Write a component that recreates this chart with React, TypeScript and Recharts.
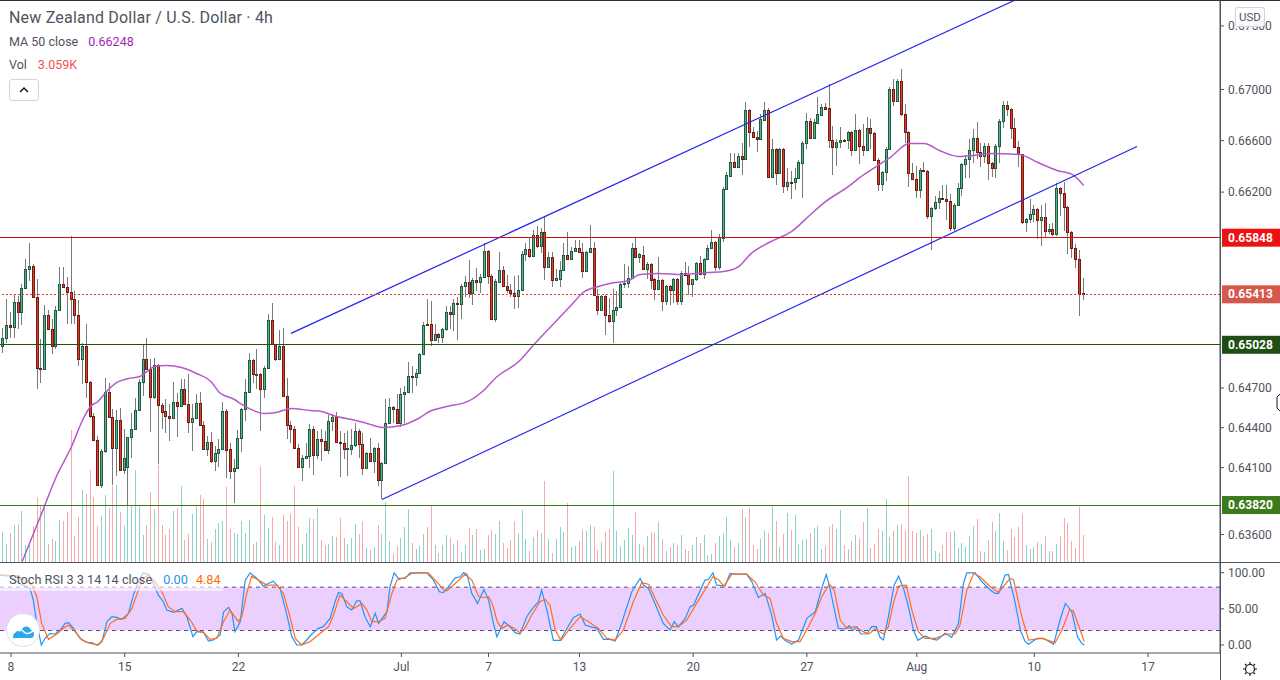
import React from "react";
import { ComposedChart, Bar, Line, XAxis, YAxis, ReferenceLine, ReferenceArea } from "recharts";

// OHLC in units of 0.00001 USD, one entry per 4h candle
const opens = [
65018,65079,65180,65162,65357,65278,65458,65607,65632,65392,
64854,64844,65257,65150,65018,65293,65494,65471,65433,65380,
65257,64918,65021,64748,64491,64310,63967,64222,64673,64484,
64247,64461,64082,64102,64328,64390,64534,64743,64918,64847,
64632,64872,64574,64524,64491,64473,64597,64564,64695,64582,
64443,64473,64590,64423,64240,64295,64150,64212,64240,64529,
64237,64075,64097,64323,64542,64670,64915,64806,64809,64690,
64852,65219,65031,64923,65021,64643,64423,64393,64250,64105,
64172,64190,64388,64195,64318,64300,64232,64453,64478,64295,
64288,64242,64242,64273,64378,64278,64100,64212,64150,64250,
64007,64137,64438,64560,64544,64438,64657,64673,64794,64786,
64816,64961,65188,65186,65064,65109,65087,65150,65280,65262,
65349,65339,65476,65510,65423,65525,65505,65548,65747,65556,
65224,65510,65601,65479,65448,65423,65403,65448,65724,65762,
65706,65870,65786,65890,65624,65701,65525,65533,65601,65716,
65686,65747,65770,65739,65594,65739,65770,65403,65295,65403,
65257,65211,65295,65318,65492,65502,65540,65765,65698,65716,
65606,65649,65527,65450,65519,65360,65478,65445,65534,65360,
65573,65560,65491,65527,65657,65568,65685,65772,65811,65621,
65847,66224,66324,66430,66394,66477,66456,66843,66671,66632,
66609,66760,66843,66316,66536,66347,66536,66247,66280,66278,
66308,66427,66582,66757,66619,66739,66801,66859,66851,66606,
66549,66588,66606,66603,66669,66526,66684,66556,66526,66700,
66661,66453,66262,66355,66536,67005,66909,67068,66810,66669,
66350,66303,66218,66373,66366,66014,66076,66122,66156,66148,
66133,65922,66099,66231,66418,66456,66526,66622,66513,66479,
66560,66428,66386,66558,66753,66880,66849,66695,66551,66495,
65968,65991,66030,66071,65983,66009,65899,65917,65876,66233,
66195,66087,65891,65770,65685,65420];
const highs = [
65153,65375,65280,65412,65400,65494,65681,65809,65642,65533,
65069,65329,65290,65227,65323,65619,65619,65545,65860,65436,
65369,65044,65183,64753,64509,64338,64237,64779,64736,64539,
64532,64547,64393,64333,64514,64627,64766,65036,65077,64918,
64930,64884,64590,64620,64577,64748,64665,64766,64766,64804,
64577,64653,64670,64451,64338,64370,64262,64313,64595,64539,
64287,64162,64380,64549,64766,64963,64923,64993,64814,64867,
65260,65344,65036,65137,65153,64779,64449,64413,64275,64197,
64282,64431,64413,64375,64388,64375,64494,64501,64519,64375,
64363,64375,64388,64438,64388,64363,64220,64320,64258,64288,
64145,64615,64627,64565,64657,64703,64716,64900,64867,64842,
64968,65201,65375,65362,65183,65120,65158,65323,65323,65375,
65395,65490,65553,65673,65540,65617,65566,65808,65757,65566,
65528,65739,65629,65561,65490,65553,65561,65745,65808,65855,
65906,65936,65924,66014,65737,65737,65604,65668,65808,65893,
65775,65829,65829,65808,65745,65942,65814,65451,65408,65408,
65387,65451,65438,65497,65648,65629,65809,65852,65731,65782,
65660,65655,65539,65703,65527,65488,65488,65539,65539,65591,
65662,65629,65532,65662,65706,65690,65795,65906,65822,65873,
66237,66355,66505,66505,66505,66582,66903,66850,66705,66674,
66804,66903,66856,66609,66540,66540,66540,66389,66363,66389,
66453,66595,66817,66778,66765,66943,66883,66896,67039,66713,
66614,66708,66614,66674,66674,66804,66687,66726,66786,66766,
66666,66461,66363,66551,67021,67079,67084,67163,66883,66674,
66428,66402,66389,66435,66371,66084,66169,66208,66259,66259,
66182,66112,66272,66428,66492,66609,66687,66747,66583,66583,
66583,66433,66571,66766,66909,66909,66857,66779,66596,66498,
66001,66143,66104,66076,66099,66117,65950,65963,66272,66239,
66278,66092,65896,65796,65757,65539];
const lows = [
64963,65039,65082,65082,65145,65176,65451,65515,65387,64690,
64736,64842,65145,64955,64993,65285,65463,65183,65183,65183,
64867,64728,64627,64476,64305,63962,63950,64212,64476,63967,
64037,64075,64050,63812,64172,64388,64527,64640,64842,64368,
64615,64125,64388,64358,64300,64464,64333,64559,64577,64363,
64225,64464,64413,64232,64187,64137,64075,64107,64237,64025,
64012,63832,64095,64217,64451,64665,64741,64690,64375,64627,
64842,65031,64908,64913,64635,64313,64287,64242,64100,63999,
64162,64100,64045,64162,64150,64225,64200,64375,64288,64030,
64162,64037,64195,64258,64175,64045,64095,64145,64062,63962,
63867,64132,64433,64438,64433,64408,64438,64665,64665,64716,
64811,64948,65181,65018,65056,65044,65044,65132,65145,65132,
65064,65221,65395,65387,65331,65438,65425,65540,65490,65221,
65201,65502,65471,65425,65395,65303,65311,65443,65668,65693,
65701,65770,65732,65522,65617,65469,65515,65471,65596,65680,
65680,65739,65732,65535,65586,65732,65400,65255,65290,65099,
65191,65039,65247,65311,65464,65459,65534,65693,65655,65601,
65527,65450,65368,65445,65284,65332,65335,65348,65335,65335,
65552,65411,65393,65514,65563,65527,65680,65762,65591,65596,
65814,66219,66319,66389,66389,66329,66453,66551,66622,66510,
66603,66757,66311,66311,66259,66342,66190,66208,66143,66216,
66303,66151,66531,66614,66614,66734,66791,66843,66543,66329,
66402,66543,66595,66531,66479,66518,66415,66479,66518,66531,
66440,66208,66208,66285,66531,66870,66904,66792,66583,66239,
66298,66151,66156,66358,65989,65752,66061,66066,66143,65981,
65899,65899,66092,66169,66311,66306,66428,66459,66394,66428,
66293,66316,66311,66428,66695,66792,66609,66541,66394,65950,
65891,65963,65968,65834,65783,65847,65873,65860,65860,66014,
65899,65719,65693,65616,65250,65368];
const closes = [
65082,65178,65162,65357,65278,65463,65609,65632,65392,64852,
64844,65257,65150,65018,65295,65494,65468,65431,65377,65255,
64918,65021,64743,64489,64308,63967,64227,64673,64481,64247,
64461,64082,64175,64333,64393,64537,64748,64918,64844,64632,
64872,64572,64522,64489,64473,64597,64564,64695,64579,64443,
64476,64590,64421,64240,64295,64152,64212,64242,64529,64235,
64075,64100,64325,64544,64673,64915,64806,64809,64693,64854,
65219,65036,64923,65021,64640,64421,64391,64247,64105,64175,
64190,64388,64195,64318,64300,64232,64453,64478,64295,64288,
64242,64245,64273,64378,64278,64100,64212,64150,64250,64007,
64137,64438,64560,64544,64438,64657,64673,64794,64786,64816,
64961,65181,65181,65064,65112,65087,65150,65280,65262,65349,
65339,65479,65510,65423,65525,65510,65548,65747,65556,65224,
65512,65601,65479,65448,65423,65403,65448,65724,65762,65706,
65870,65786,65890,65624,65701,65525,65535,65601,65716,65686,
65747,65770,65739,65594,65739,65770,65405,65295,65403,65257,
65211,65295,65318,65495,65502,65540,65765,65698,65719,65606,
65649,65521,65450,65519,65360,65478,65445,65534,65360,65573,
65560,65491,65527,65657,65568,65685,65772,65811,65621,65852,
66224,66329,66430,66394,66477,66456,66843,66666,66627,66609,
66765,66843,66316,66536,66347,66536,66247,66280,66278,66311,
66430,66585,66757,66619,66742,66804,66859,66846,66603,66549,
66590,66606,66604,66669,66528,66684,66556,66526,66700,66661,
66448,66262,66358,66536,67005,66909,67068,66807,66669,66347,
66303,66218,66373,66363,66014,66079,66125,66156,66146,66130,
65922,66102,66233,66420,66459,66528,66622,66510,66479,66560,
66428,66386,66560,66755,66880,66846,66695,66551,66495,65968,
65994,66032,66071,65983,66009,65899,65917,65876,66233,66195,
66084,65891,65767,65685,65414,65413];
// Volume in thousands
const volumes = [
3.43,2.08,3.32,4.23,4.34,5.81,1.96,1.96,4.04,7.40,
6.38,6.15,2.08,2.64,2.42,4.79,4.68,5.70,14.9,2.98,
5.13,8.19,7.74,10.45,7.40,4.11,5.25,7.62,6.15,8.64,
8.75,5.70,4.11,6.49,6.49,10.45,6.49,3.09,4.23,7.96,
6.04,11.02,4.23,3.09,3.77,5.81,6.15,8.64,2.53,3.21,
5.47,6.49,7.62,7.17,2.64,2.30,3.77,4.45,4.68,8.53,
3.77,3.32,3.21,4.68,3.32,4.79,2.08,2.30,10.83,5.36,
3.89,5.13,2.30,1.96,5.36,4.68,5.47,8.64,4.00,2.08,
3.32,5.02,4.91,6.15,2.53,1.96,2.08,2.98,2.87,5.02,
2.75,2.08,2.75,4.34,3.21,4.68,1.62,1.40,1.74,4.23,
3.21,6.83,2.42,0.94,1.85,2.75,4.00,6.04,2.19,1.51,
1.85,3.21,4.00,6.38,1.96,1.06,1.96,3.09,2.75,2.08,
2.53,1.17,1.96,3.89,3.09,3.77,1.40,1.51,3.09,3.66,
3.21,4.68,2.19,1.62,2.53,4.68,3.32,5.92,2.64,1.28,
2.87,3.66,3.32,9.21,2.64,1.06,2.64,4.00,3.43,6.72,
1.74,1.85,2.42,3.66,3.55,4.23,4.00,1.40,2.30,3.43,
3.77,10.34,3.55,1.85,2.53,3.89,3.09,5.70,2.08,1.85,
2.98,3.43,3.32,4.57,2.64,1.28,1.74,2.19,1.96,3.09,
1.51,1.28,1.96,2.87,2.19,3.09,0.83,0.94,2.19,2.98,
3.21,5.13,2.53,1.74,2.19,6.04,5.13,6.15,1.96,1.51,
2.64,3.66,3.32,6.49,4.68,1.74,3.21,5.58,3.66,5.36,
2.08,2.53,2.64,3.32,3.89,4.11,1.51,1.85,4.00,4.34,
3.77,5.92,1.96,1.51,2.42,3.09,2.75,4.57,6.15,1.62,
2.08,3.77,3.55,7.17,2.87,3.55,4.23,4.34,3.66,9.77,
3.55,3.32,3.66,2.98,3.21,3.77,1.28,1.06,1.96,3.43,
3.43,3.55,1.62,2.19,1.74,2.98,4.11,4.91,1.28,1.17,
2.53,4.57,3.55,5.58,2.42,1.40,3.77,2.87,4.00,5.47,
1.96,1.51,1.74,2.30,2.08,2.98,1.28,1.28,2.08,2.98,
5.02,4.45,2.42,1.62,6.26,3.06];

// MA 50, read at selected candles
const maBars = [5,10,14,18,21,23,25,27,30,33,36,40,43,47,51,55,57,61,63,69,72,76,81,84,87,93,96,100,105,109,113,117,123,127,130,136,140,145,150,153,157,160,165,168,173,179,186,190,194,197,202,208,213,217,223,226,230,234,239,243,247,252,256,261,268,273,278,282,285];
const maValues = [63400,63749,64033,64259,64462,64560,64598,64666,64742,64772,64787,64863,64871,64856,64810,64742,64666,64613,64575,64507,64515,64545,64530,64522,64492,64455,64432,64402,64417,64462,64530,64560,64605,64689,64780,64901,65030,65182,65335,65427,65473,65496,65519,65565,65573,65565,65580,65588,65626,65718,65811,65896,66027,66128,66244,66314,66392,66469,66578,66578,66523,66477,66484,66500,66492,66430,66368,66337,66252];

// Stoch RSI %K, read at selected positions
const kBars = [-0.9,1.8,4.4,7.0,7.9,8.8,10.0,11.0,12.3,13.6,15.0,16.3,17.2,18.5,20.2,22.0,23.3,24.6,26.0,27.3,28.6,29.9,31.2,33.0,34.3,35.6,36.9,38.3,39.6,40.9,42.2,43.1,44.9,47.1,48.4,50.0,51.0,52.8,54.1,55.4,57.2,58.1,59.4,60.3,61.1,62.5,63.8,65.1,66.9,68.6,69.9,71.2,73.0,74.8,76.1,77.4,78.7,80.0,81.4,83.1,84.4,86.2,87.5,88.4,89.3,90.6,91.9,93.2,94.1,95.4,96.8,98.1,99.0,101.2,102.0,103.1,104.2,106.0,107.3,111.7,113.5,115.0,116.1,117.4,119.2,120.5,121.4,122.3,123.6,125.1,126.8,128.0,129.3,130.2,132.1,133.7,135.0,136.3,138.1,139.4,141.2,142.0,143.4,145.1,146.9,148.2,150.4,152.2,153.5,154.8,156.6,158.3,160.1,161.4,163.1,165.8,168.0,168.9,170.2,171.9,174.1,175.9,177.0,178.1,179.9,181.2,182.1,185.1,186.0,187.2,188.2,190.4,191.7,193.0,196.1,197.5,199.2,201.0,202.7,204.0,205.1,206.2,208.0,209.8,212.0,214.2,215.9,217.1,217.9,220.3,222.1,223.2,224.1,225.2,226.2,227.8,229.1,230.3,231.3,232.2,233.5,235.0,236.2,237.5,238.8,240.1,241.3,243.2,244.5,246.3,248.5,250.2,252.0,253.3,254.2,256.4,258.2,260.4,261.7,262.6,264.3,265.2,267.0,268.3,269.6,270.5,272.7,274.4,277.1,278.8,280.2,281.9,283.4,284.5,285.2];
const kValues = [96.6,95.2,85.1,78.2,62.1,29.9,0,9.2,16.1,15.2,20.7,29.9,30.8,23.0,9.2,3.7,3.2,0,4.6,32.2,39.1,38.2,35.4,43.7,69.0,87.4,99.8,97.9,85.1,69.0,59.8,48.3,45.1,50.6,39.1,11.5,18.4,17.5,5.5,6.9,13.8,46.0,52.0,43.7,18.4,32.2,89.7,99.8,92.0,81.4,85.1,88.3,78.2,41.4,11.5,0,0,6.9,15.2,23.0,25.3,36.8,59.8,72.6,71.3,52.9,48.3,61.1,61.1,39.1,25.3,43.7,29.9,46.0,80.5,99.8,92.0,92.0,99.8,99.8,89.7,73.6,72.6,80.5,92.9,94.3,99.8,97.9,71.3,57.5,76.8,62.1,29.9,11.5,32.2,25.3,17.0,15.2,39.1,49.2,59.8,75.9,48.3,6.4,6.4,18.4,38.2,42.8,27.6,25.3,23.0,7.8,7.8,5.5,29.9,73.6,92.0,82.8,78.2,57.5,29.9,20.7,32.2,25.3,36.8,52.9,55.2,89.7,90.6,99.8,82.8,81.4,98.9,97.9,97.9,87.4,65.7,71.3,41.4,6.9,12.4,6.4,1.4,6.9,36.8,46.0,78.2,97.5,82.8,23.0,22.1,26.7,19.8,25.3,15.2,15.2,25.3,25.3,10.6,6.9,39.1,82.8,95.2,78.2,52.9,20.7,6.4,12.4,9.2,6.9,16.1,10.6,29.9,85.1,99.8,99.8,87.4,75.9,71.3,71.3,96.6,97.5,57.5,20.7,4.6,0.9,9.2,9.2,0.9,34.5,57.5,46.0,11.5,2.3,0];

// Stoch RSI %D, read at selected positions
const dBars = [-0.9,3.5,7.5,8.8,10.1,11.9,14.1,15.8,17.2,18.9,20.7,22.9,25.1,26.4,28.2,29.9,32.1,33.9,35.6,36.9,38.3,40.0,41.8,43.5,45.3,47.5,49.3,51.0,52.8,54.5,56.3,58.1,59.8,62.0,62.9,64.2,65.5,67.3,69.5,72.1,73.9,75.6,77.0,78.7,80.9,83.6,85.8,87.1,88.8,90.6,92.4,94.6,95.9,97.2,99.0,100.7,102.5,103.8,106.0,107.7,110.0,112.1,113.9,116.1,117.0,119.2,121.8,123.6,125.3,126.6,128.0,129.1,130.3,131.5,133.2,135.0,136.3,137.6,139.4,141.6,142.9,144.2,145.6,147.1,149.5,152.2,154.4,157.0,159.2,161.4,163.6,166.2,168.4,170.2,172.4,174.1,176.3,178.1,180.3,182.9,185.6,187.2,188.6,190.1,192.2,196.1,198.3,200.5,202.3,204.0,205.8,208.0,210.2,212.4,214.4,215.9,217.9,219.2,220.8,222.5,224.7,226.9,228.3,230.0,232.2,233.5,234.8,236.2,238.2,239.7,241.4,243.2,245.8,248.9,251.1,252.4,254.2,256.0,257.7,260.4,262.6,265.6,266.5,268.7,270.5,274.0,277.5,279.3,281.3,282.3,284.1,285.2];
const dValues = [96.6,95.6,82.8,66.7,29.9,7.8,15.2,23.0,27.6,18.4,6.9,2.3,0,9.2,29.9,35.4,36.8,50.6,75.9,92.0,96.6,87.4,73.6,52.9,46.0,46.0,34.5,19.8,17.5,7.8,9.2,32.2,48.3,32.2,39.1,71.3,95.2,89.7,82.8,82.8,71.3,39.1,9.2,0,4.6,16.1,25.3,41.4,69.0,59.8,50.6,57.5,48.3,32.2,32.2,36.8,71.3,89.7,93.3,98.9,99.8,99.8,89.7,76.8,74.9,85.1,97.9,89.7,67.6,65.7,66.7,55.2,32.2,23.0,27.6,22.1,17.0,23.0,41.4,59.8,63.4,55.2,20.7,6.4,23.0,39.1,32.2,23.0,9.2,6.9,20.7,59.8,86.0,84.1,59.8,41.4,25.3,25.3,34.5,57.5,80.5,94.3,90.6,81.4,97.9,97.9,87.4,69.0,64.4,29.9,9.2,4.6,4.6,25.3,46.0,66.7,84.1,75.9,34.5,23.0,25.3,18.4,15.2,22.1,15.2,25.3,57.5,81.4,82.8,48.3,18.4,9.2,9.2,15.2,15.2,27.6,75.9,98.9,94.3,80.5,72.6,92.0,90.6,39.1,6.9,9.2,3.2,20.7,48.3,47.4,20.7,4.6];

const priceTicks = [0.675, 0.67, 0.666, 0.662, 0.647, 0.644, 0.641, 0.636];
const timeTickBars = [2, 32, 62, 105, 128, 152, 182, 212, 241, 272, 302];
const timeTickLabels = ["8", "15", "22", "Jul", "7", "13", "20", "27", "Aug", "10", "17"];
const stochTicks = [0, 50, 100];
const upperChannel = [{ bar: 75.9, price: 0.65115 }, { bar: 266.7, price: 0.67701 }];
const lowerChannel = [{ bar: 99.9, price: 0.63861 }, { bar: 299.1, price: 0.66554 }];

const FONT = "Roboto, 'Noto Sans', sans-serif";
const TEXT = "#50535e";
const AXIS = "#50535e";
const X_DOMAIN = [-0.87, 321];
const Y_DOMAIN = [0.63396, 0.67705];

const candleRows = opens.map((o, i) => {
  const row: any = {
    i,
    open: o / 1e5,
    high: highs[i] / 1e5,
    low: lows[i] / 1e5,
    close: closes[i] / 1e5,
    range: [lows[i] / 1e5, highs[i] / 1e5],
    vol: volumes[i],
  };
  const m = maBars.indexOf(i);
  if (m >= 0) row.ma = maValues[m] / 1e5;
  return row;
});

const stochMap = new Map<number, any>();
kBars.forEach((b, j) => stochMap.set(b, { i: b, k: kValues[j] }));
dBars.forEach((b, j) => stochMap.set(b, { ...(stochMap.get(b) || { i: b }), d: dValues[j] }));
const stochRows = Array.from(stochMap.values()).sort((a, b) => a.i - b.i);

const Candle = (props: any) => {
  const { x, width, y, height, payload } = props;
  if (!payload || !isFinite(y)) return null;
  const hi = Math.log(payload.high);
  const lo = Math.log(payload.low);
  const py = (p: number) => y + (height * (hi - Math.log(p))) / (hi - lo);
  const c = Math.floor(x + width / 2);
  const up = payload.close >= payload.open;
  const top = Math.round(py(Math.max(payload.open, payload.close)));
  const bot = Math.round(py(Math.min(payload.open, payload.close)));
  const h = Math.max(bot - top, 1) + 1;
  return (
    <g shapeRendering="crispEdges">
      <rect x={c} y={y} width={1} height={height} fill="#7a7a7a" />
      <rect x={c - 1} y={top} width={3} height={h} fill={up ? "#1f5a3e" : "#6e1c14"} />
      {h > 2 ? <rect x={c} y={top + 1} width={1} height={h - 2} fill={up ? "#56b48a" : "#e2402e"} /> : null}
    </g>
  );
};

const VolumeBar = (props: any) => {
  const { x, width, y, height, payload } = props;
  if (!payload) return null;
  const up = payload.close >= payload.open;
  return (
    <rect
      x={Math.floor(x + width / 2)}
      y={y}
      width={1}
      height={height}
      fill={up ? "#8ed3c8" : "#f8a9a9"}
      shapeRendering="crispEdges"
    />
  );
};

const priceTag = (text: string, bg: string) => (props: any) => {
  const vb = props.viewBox || {};
  const cy = vb.y;
  return (
    <g>
      <rect x={1222} y={cy - 9} width={58} height={18} fill={bg} />
      <text x={1228} y={cy + 4} fontFamily={FONT} fontSize={12} fontWeight={700} fill="#fff">
        {text}
      </text>
    </g>
  );
};

const abs = (left: number, top: number, extra: any = {}) => ({
  position: "absolute" as const,
  left,
  top,
  fontFamily: FONT,
  whiteSpace: "nowrap" as const,
  lineHeight: 1,
  ...extra,
});

export default function App() {
  return (
    <div style={{ position: "absolute", left: 0, top: 0, width: 1280, height: 680, overflow: "hidden", background: "#fff" }}>
      <div style={{ position: "absolute", left: 0, top: 0 }}>
        <ComposedChart width={1280} height={562} data={candleRows} margin={{ top: 0, right: 0, bottom: 0, left: 0 }}>
          <XAxis xAxisId="main" dataKey="i" type="number" domain={X_DOMAIN} hide />
          <XAxis xAxisId="volx" dataKey="i" type="number" domain={X_DOMAIN} hide />
          <YAxis
            yAxisId="price"
            orientation="right"
            width={60}
            scale="log"
            domain={Y_DOMAIN}
            allowDataOverflow
            ticks={priceTicks}
            interval={0}
            tickFormatter={(v: number) => v.toFixed(5)}
            tick={{ fontFamily: FONT, fontSize: 12, fill: TEXT }}
            tickLine={{ stroke: AXIS }}
            axisLine={{ stroke: AXIS }}
            tickSize={4}
            tickMargin={4}
          />
          <YAxis yAxisId="vol" hide domain={[0, 63.6]} allowDataOverflow />
          <Bar xAxisId="volx" yAxisId="vol" dataKey="vol" barSize={1} shape={<VolumeBar />} isAnimationActive={false} />
          <Bar xAxisId="main" yAxisId="price" dataKey="range" barSize={3} shape={<Candle />} isAnimationActive={false} />
          <Line
            xAxisId="main"
            yAxisId="price"
            dataKey="ma"
            type="monotone"
            connectNulls
            dot={false}
            stroke="#b45ac8"
            strokeWidth={1.5}
            isAnimationActive={false}
          />
          <ReferenceLine
            xAxisId="main"
            yAxisId="price"
            segment={[{ x: upperChannel[0].bar, y: upperChannel[0].price }, { x: upperChannel[1].bar, y: upperChannel[1].price }]}
            stroke="#2323ee"
            strokeWidth={1.2}
          />
          <ReferenceLine
            xAxisId="main"
            yAxisId="price"
            segment={[{ x: lowerChannel[0].bar, y: lowerChannel[0].price }, { x: lowerChannel[1].bar, y: lowerChannel[1].price }]}
            stroke="#2323ee"
            strokeWidth={1.2}
          />
          <ReferenceLine xAxisId="main" yAxisId="price" y={0.65848} stroke="#d50f0f" strokeWidth={1} shapeRendering="crispEdges" label={priceTag("0.65848", "#ee1111")} />
          <ReferenceLine xAxisId="main" yAxisId="price" y={0.65413} stroke="#e5382c" strokeWidth={1} strokeDasharray="2 2" shapeRendering="crispEdges" label={priceTag("0.65413", "#d5584c")} />
          <ReferenceLine xAxisId="main" yAxisId="price" y={0.65028} stroke="#245208" strokeWidth={1} shapeRendering="crispEdges" label={priceTag("0.65028", "#1f4f14")} />
          <ReferenceLine xAxisId="main" yAxisId="price" y={0.6382} stroke="#3c7a14" strokeWidth={1} shapeRendering="crispEdges" label={priceTag("0.63820", "#3c7a1c")} />
        </ComposedChart>
      </div>

      <div style={{ position: "absolute", left: 0, top: 562 }}>
        <ComposedChart width={1280} height={118} data={stochRows} margin={{ top: 1, right: 0, bottom: 0, left: 0 }}>
          <XAxis
            dataKey="i"
            type="number"
            domain={X_DOMAIN}
            ticks={timeTickBars}
            interval={0}
            height={27}
            tickFormatter={(v: number) => timeTickLabels[timeTickBars.indexOf(v)] || ""}
            tick={{ fontFamily: FONT, fontSize: 12, fill: TEXT }}
            tickLine={{ stroke: AXIS }}
            axisLine={{ stroke: AXIS }}
            tickSize={4}
            tickMargin={5}
          />
          <YAxis
            orientation="right"
            width={60}
            domain={[-11.1, 113.4]}
            allowDataOverflow
            ticks={stochTicks}
            interval={0}
            tickFormatter={(v: number) => v.toFixed(2)}
            tick={{ fontFamily: FONT, fontSize: 12, fill: TEXT }}
            tickLine={{ stroke: AXIS }}
            axisLine={{ stroke: AXIS }}
            tickSize={4}
            tickMargin={4}
          />
          <ReferenceArea y1={20} y2={80} fill="#9915ff" fillOpacity={0.2} stroke="none" />
          <ReferenceLine y={80} stroke="#5d4a6e" strokeDasharray="4 4" />
          <ReferenceLine y={20} stroke="#5d4a6e" strokeDasharray="4 4" />
          <Line dataKey="k" connectNulls dot={false} stroke="#2196f3" strokeWidth={1.2} isAnimationActive={false} />
          <Line dataKey="d" connectNulls dot={false} stroke="#ff6d1f" strokeWidth={1.2} isAnimationActive={false} />
        </ComposedChart>
      </div>

      {/* frame lines */}
      <div style={{ position: "absolute", left: 0, top: 0, width: 1280, height: 1, background: "#2a2e39" }} />
      <div style={{ position: "absolute", left: 0, top: 562, width: 1280, height: 1, background: AXIS }} />
      <div style={{ position: "absolute", left: 1220, top: 0, width: 1, height: 680, background: AXIS }} />

      {/* legends */}
      <div style={abs(9, 10, { fontSize: 16, color: TEXT, letterSpacing: 0.2 })}>New Zealand Dollar / U.S. Dollar · 4h</div>
      <div style={abs(9, 36, { fontSize: 12.5, color: TEXT })}>
        MA 50 close<span style={{ color: "#9c27b0", marginLeft: 10 }}>0.66248</span>
      </div>
      <div style={abs(9, 59, { fontSize: 12.5, color: TEXT })}>
        Vol<span style={{ color: "#ef5350", marginLeft: 11 }}>3.059K</span>
      </div>
      <div style={{ position: "absolute", left: 9, top: 79, width: 28, height: 20, border: "1px solid #d1d4dc", borderRadius: 3, background: "#fff" }}>
        <svg width={28} height={20} style={{ display: "block" }}>
          <path d="M10 12 L14 8 L18 12" fill="none" stroke="#131722" strokeWidth={1.5} />
        </svg>
      </div>
      <div style={{ position: "absolute", left: 0, top: 571, width: 223, height: 20, background: "rgba(255,255,255,0.6)" }} />
      <div style={abs(9, 574, { fontSize: 12.7, color: TEXT })}>
        Stoch RSI 3 3 14 14 close
        <span style={{ color: "#2196f3", marginLeft: 11 }}>0.00</span>
        <span style={{ color: "#ff6d00", marginLeft: 8 }}>4.84</span>
      </div>

      {/* currency button */}
      <div style={abs(1235, 7, { width: 28, height: 18, border: "1px solid #d1d4dc", borderRadius: 3, background: "rgba(255,255,255,0.9)", fontSize: 11.5, color: TEXT, textAlign: "center", lineHeight: "18px" })}>USD</div>

      {/* logo, gear, cursor */}
      <svg style={{ position: "absolute", left: 0, top: 0, pointerEvents: "none" }} width={1280} height={680}>
        <circle cx={23} cy={630} r={16.5} fill="#fff" stroke="#e3dfe8" />
        <path d="M13 638 C13 631 18 630 20 632 C23 625 29 625 31 630 C35 631 35 638 31 638 Z" fill="#2ba7ea" />
        <path d="M14 633 C18 628 21 628 24 632 C27 635 30 633 33 631" fill="none" stroke="#fff" strokeWidth={1.4} />
        <circle cx={1250} cy={669} r={4.5} fill="#fff" stroke="#131722" strokeWidth={1.2} />
        <path d="M1250 662 V664 M1250 674 V676 M1243 669 H1245 M1255 669 H1257 M1245 664 L1246.5 665.5 M1253.5 672.5 L1255 674 M1245 674 L1246.5 672.5 M1253.5 665.5 L1255 664" stroke="#131722" strokeWidth={1.2} />
        <path d="M1280 394 L1277 397 V408 L1280 411" fill="#fff" stroke="#131722" strokeWidth={1} />
      </svg>
    </div>
  );
}
